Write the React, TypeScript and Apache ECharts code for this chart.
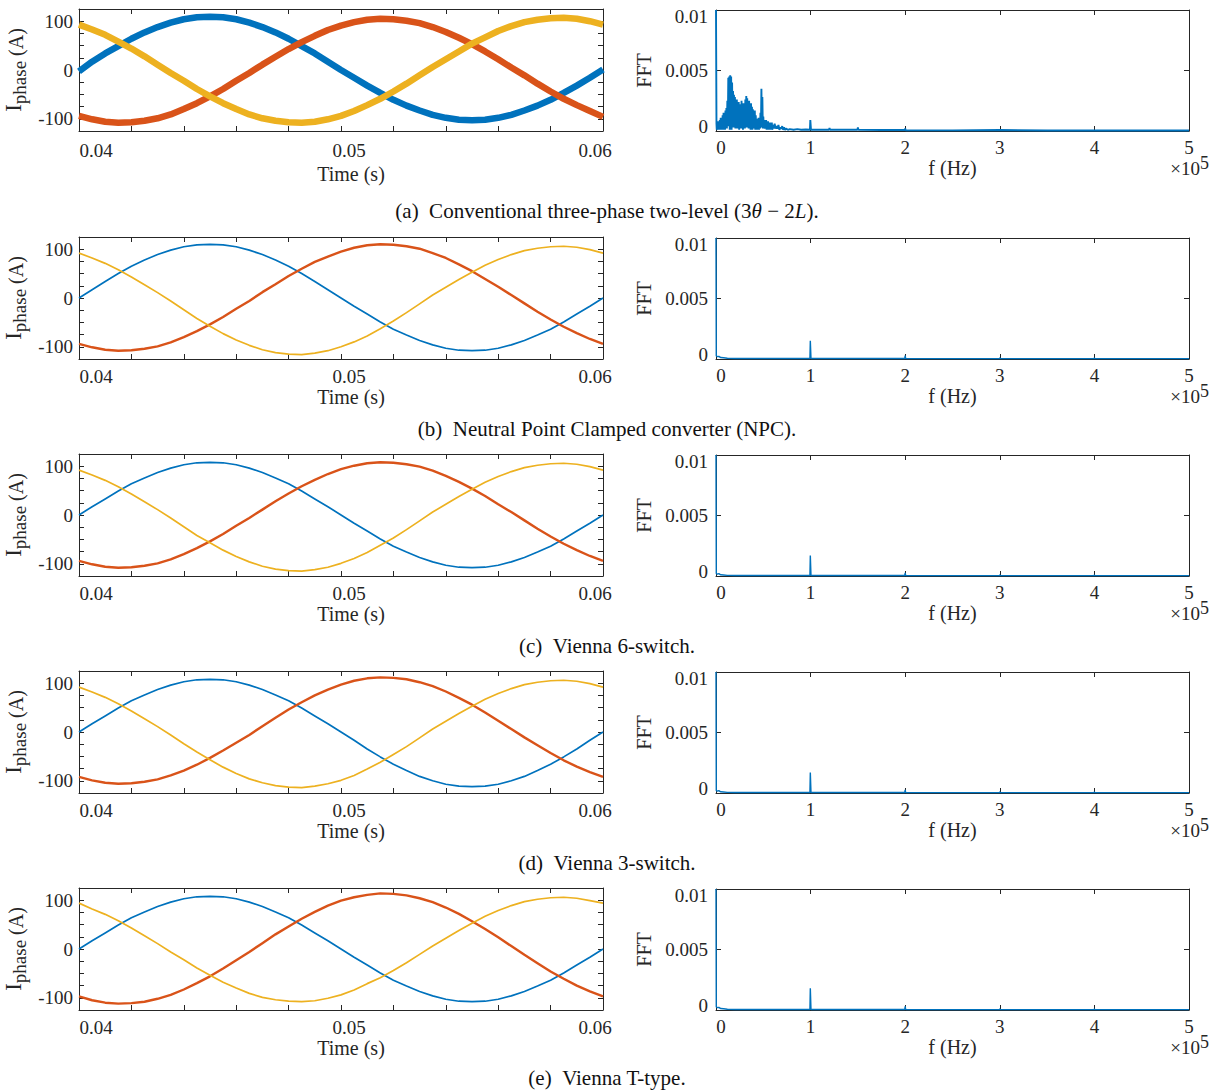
import React, { useEffect, useRef } from "react";
import * as echarts from "echarts";

// ---------- data ----------
const TIME = [
  0.0400, 0.0405, 0.0410, 0.0415, 0.0420, 0.0425, 0.0430, 0.0435, 0.0440, 0.0445,
  0.0450, 0.0455, 0.0460, 0.0465, 0.0470, 0.0475, 0.0480, 0.0485, 0.0490, 0.0495,
  0.0500, 0.0505, 0.0510, 0.0515, 0.0520, 0.0525, 0.0530, 0.0535, 0.0540, 0.0545,
  0.0550, 0.0555, 0.0560, 0.0565, 0.0570, 0.0575, 0.0580, 0.0585, 0.0590, 0.0595, 0.0600,
];

const TIME_TICK_LABELS = ["0.04", "0.05", "0.06"];
const CURRENT_TICK_LABELS = ["-100", "0", "100"];
const FFT_TICK_LABELS = ["0", "0.005", "0.01"];
const FREQ_TICK_LABELS = ["0", "1", "2", "3", "4", "5"];

// (a) conventional three-phase two-level
const ia_a = [-3, 17, 34, 49, 64, 77, 88, 97, 104, 108, 109, 108, 104, 97, 88, 77, 64, 49, 34, 17, 0, -16, -32, -47, -61, -73, -83, -92, -98, -102, -103, -102, -98, -92, -83, -73, -61, -47, -32, -16, 1];
const ib_a = [-94, -101, -106, -108, -107, -104, -99, -91, -80, -68, -54, -39, -22, -6, 11, 27, 43, 57, 70, 82, 91, 98, 103, 105, 104, 101, 96, 88, 78, 66, 53, 38, 22, 5, -11, -28, -44, -59, -72, -84, -96];
const ic_a = [93, 83, 72, 58, 44, 28, 11, -6, -22, -39, -54, -68, -80, -91, -99, -104, -107, -108, -106, -101, -94, -84, -72, -59, -44, -28, -11, 6, 22, 38, 54, 67, 80, 90, 98, 103, 106, 107, 105, 100, 93];
// (b) NPC
const ia_b = [0, 17, 34, 50, 65, 78, 89, 98, 105, 109, 110, 109, 105, 98, 89, 78, 65, 50, 34, 17, 0, -17, -33, -49, -64, -76, -87, -96, -103, -107, -108, -107, -103, -96, -87, -76, -64, -49, -33, -17, 0];
const ib_b = [-94, -101, -106, -108, -107, -104, -99, -91, -80, -68, -54, -39, -22, -6, 12, 28, 45, 60, 74, 85, 95, 103, 108, 110, 109, 106, 101, 92, 82, 69, 55, 39, 23, 6, -11, -28, -44, -59, -72, -84, -94];
const ic_b = [92, 82, 71, 58, 43, 27, 11, -6, -24, -42, -58, -73, -86, -97, -106, -112, -115, -116, -113, -108, -100, -90, -78, -63, -47, -30, -12, 6, 22, 38, 53, 67, 79, 89, 97, 102, 105, 106, 104, 99, 92];
// (c) Vienna 6-switch
const ia_c = [0, 17, 33, 49, 64, 76, 87, 96, 103, 107, 108, 107, 103, 96, 87, 76, 64, 49, 33, 17, 0, -17, -33, -49, -64, -76, -87, -96, -103, -107, -108, -107, -103, -96, -87, -76, -64, -49, -33, -17, 0];
const ib_c = [-94, -101, -106, -108, -107, -104, -99, -91, -80, -68, -54, -39, -22, -6, 11, 28, 44, 59, 72, 84, 94, 101, 106, 108, 107, 104, 99, 91, 80, 68, 54, 39, 22, 6, -11, -28, -44, -59, -72, -84, -94];
const ic_c = [92, 82, 71, 58, 43, 27, 11, -6, -24, -42, -57, -72, -85, -96, -105, -111, -114, -115, -112, -107, -99, -89, -77, -62, -47, -30, -12, 6, 22, 38, 53, 67, 79, 89, 97, 102, 105, 106, 104, 99, 92];
// (d) Vienna 3-switch
const ia_d = [0, 17, 33, 49, 64, 76, 87, 96, 103, 107, 108, 107, 103, 96, 87, 76, 64, 49, 33, 17, 0, -17, -35, -51, -66, -79, -91, -100, -107, -111, -112, -111, -107, -100, -91, -79, -66, -51, -35, -17, 0];
const ib_d = [-92, -99, -104, -106, -105, -102, -97, -89, -79, -67, -53, -38, -22, -6, 12, 29, 46, 61, 75, 87, 97, 105, 110, 112, 111, 108, 102, 94, 83, 70, 56, 40, 23, 6, -11, -27, -43, -58, -71, -82, -92];
const ic_d = [92, 82, 71, 58, 43, 27, 11, -6, -24, -41, -57, -72, -85, -96, -104, -110, -113, -114, -111, -106, -99, -89, -76, -62, -46, -30, -12, 6, 22, 38, 53, 67, 79, 89, 97, 102, 105, 106, 104, 99, 92];
// (e) Vienna T-type
const ia_e = [0, 17, 33, 49, 64, 76, 87, 96, 103, 107, 108, 107, 103, 96, 87, 76, 64, 49, 33, 17, 0, -17, -33, -49, -64, -76, -87, -96, -103, -107, -108, -107, -103, -96, -87, -76, -64, -49, -33, -17, 0];
const ib_e = [-97, -105, -110, -112, -111, -108, -102, -94, -83, -70, -56, -40, -23, -6, 12, 30, 46, 62, 76, 89, 99, 106, 111, 114, 113, 110, 104, 96, 85, 72, 57, 41, 24, 6, -12, -29, -46, -61, -75, -87, -97];
const ic_e = [94, 82, 71, 58, 43, 27, 11, -6, -22, -39, -54, -68, -80, -91, -99, -104, -107, -108, -106, -101, -94, -84, -71, -59, -44, -28, -11, 6, 22, 38, 53, 67, 79, 89, 97, 102, 105, 106, 104, 99, 94];

// FFT spectra: [frequency (Hz), magnitude]
const fft_a: number[][] = [
  [0, 0.0100], [500, 0.0006], [800, 0.0001], [1000, 0.0005], [1500, 0.0001], [2000, 0.0008], [2500, 0.0001],
  [3000, 0.0007], [3500, 0.0001], [4000, 0.0009], [4500, 0.0002], [5000, 0.0011], [5500, 0.0001],
  [6000, 0.0010], [6500, 0.0002], [7000, 0.0013], [7500, 0.0001], [8000, 0.0015], [8500, 0.0002],
  [9000, 0.0014], [9500, 0.0001], [10000, 0.0017], [10500, 0.0003], [11000, 0.0019], [11500, 0.0002],
  [12000, 0.0025], [12500, 0.0004], [13000, 0.0044], [13500, 0.0006], [14000, 0.0045], [14500, 0.0001],
  [15000, 0.0046], [15500, 0.0005], [16000, 0.0045], [16500, 0.0001], [17000, 0.0040], [17500, 0.0006],
  [18000, 0.0033], [18500, 0.0003], [19000, 0.0030], [19500, 0.0005], [20000, 0.0028], [20500, 0.0002],
  [21000, 0.0022], [21500, 0.0005], [22000, 0.0026], [22500, 0.0002], [23000, 0.0021], [23500, 0.0004],
  [24000, 0.0024], [24500, 0.0001], [25000, 0.0019], [25500, 0.0004], [26000, 0.0022], [26500, 0.0002],
  [27000, 0.0025], [27500, 0.0005], [28000, 0.0020], [28500, 0.0001], [29000, 0.0023], [29500, 0.0004],
  [30000, 0.0018], [30500, 0.0002], [31000, 0.0026], [31500, 0.0005], [32000, 0.0029], [32500, 0.0003],
  [33000, 0.0027], [33500, 0.0005], [34000, 0.0024], [34500, 0.0002], [35000, 0.0025], [35500, 0.0004],
  [36000, 0.0021], [36500, 0.0001], [37000, 0.0023], [37500, 0.0004], [38000, 0.0020], [38500, 0.0001],
  [39000, 0.0018], [39500, 0.0003], [40000, 0.0016], [40500, 0.0002], [41000, 0.0017], [41500, 0.0001],
  [42000, 0.0013], [42500, 0.0003], [43000, 0.0010], [43500, 0.0001], [44000, 0.0009], [44500, 0.0002],
  [45000, 0.0011], [45500, 0.0001], [46000, 0.0009], [46500, 0.0002], [47000, 0.0015], [47500, 0.0003],
  [48000, 0.0035], [48500, 0.0004], [49000, 0.0028], [49500, 0.0002], [50000, 0.0012], [50500, 0.0003],
  [51000, 0.0009], [51500, 0.0002], [52000, 0.0008], [52500, 0.0002], [53000, 0.0009], [53500, 0.0001],
  [54000, 0.0007], [54500, 0.0002], [55000, 0.0008], [55500, 0.0001], [56000, 0.0006], [56500, 0.0002],
  [57000, 0.0007], [57500, 0.0001], [58000, 0.0006], [58500, 0.0002], [59000, 0.0007], [59500, 0.0001],
  [60000, 0.0005], [61000, 0.0002], [62000, 0.0006], [63000, 0.0002], [64000, 0.0004], [65000, 0.0002],
  [66000, 0.0005], [67000, 0.0001], [68000, 0.0003], [69000, 0.0002], [70000, 0.0004], [71000, 0.0001],
  [72000, 0.0003], [73000, 0.0001], [74000, 0.0002], [76000, 0.0001], [78000, 0.00015], [82000, 0.0001],
  [86000, 0.00015], [90000, 0.0001], [95000, 0.00012], [99300, 0.0001], [99700, 0.0009], [100000, 0.0009],
  [100400, 0.0001], [110000, 0.0001], [119500, 0.0001], [120000, 0.00025], [120500, 0.0001],
  [135000, 0.0001], [149500, 0.0001], [150000, 0.0003], [150500, 0.0001], [175000, 0.00008],
  [199500, 0.00008], [200000, 0.0002], [200500, 0.00005], [250000, 0.00005], [300000, 0.00008],
  [350000, 0.00004], [400000, 0.00005], [450000, 0.00004], [500000, 0.00004],
];
const fft_b: number[][] = [
  [0, 0.0100], [300, 0.00025], [1500, 0.0002], [3000, 0.00022], [5000, 0.00012], [8000, 0.0001],
  [12000, 0.00006], [20000, 0.00004], [99300, 0.00004], [99700, 0.0015], [100000, 0.0015], [100400, 0.00004],
  [199500, 0.00004], [200000, 0.00028], [200500, 0.00004], [299500, 0.00003], [300000, 0.0001],
  [300500, 0.00003], [399500, 0.00003], [400000, 0.00008], [400500, 0.00003], [500000, 0.00003],
];
const fft_c: number[][] = [
  [0, 0.0100], [300, 0.0002], [1500, 0.00015], [3000, 0.0002], [5000, 0.0001], [8000, 0.00008],
  [12000, 0.00005], [20000, 0.00004], [99300, 0.00004], [99700, 0.0017], [100000, 0.0017], [100400, 0.00004],
  [199500, 0.00004], [200000, 0.00025], [200500, 0.00004], [299500, 0.00003], [300000, 0.0001],
  [300500, 0.00003], [399500, 0.00003], [400000, 0.00008], [400500, 0.00003], [500000, 0.00003],
];
const fft_d: number[][] = [
  [0, 0.0100], [300, 0.0002], [1500, 0.00015], [3000, 0.0002], [5000, 0.0001], [8000, 0.00008],
  [12000, 0.00005], [20000, 0.00004], [99300, 0.00004], [99700, 0.0017], [100000, 0.0017], [100400, 0.00004],
  [199500, 0.00004], [200000, 0.00025], [200500, 0.00004], [299500, 0.00003], [300000, 0.0001],
  [300500, 0.00003], [399500, 0.00003], [400000, 0.00008], [400500, 0.00003], [500000, 0.00003],
];
const fft_e: number[][] = [
  [0, 0.0100], [300, 0.00025], [1500, 0.0002], [3000, 0.00022], [5000, 0.00012], [8000, 0.0001],
  [12000, 0.00006], [20000, 0.00004], [99300, 0.00004], [99700, 0.0018], [100000, 0.0018], [100400, 0.00004],
  [199500, 0.00004], [200000, 0.0003], [200500, 0.00004], [299500, 0.00003], [300000, 0.0001],
  [300500, 0.00003], [399500, 0.00003], [400000, 0.00008], [400500, 0.00003], [500000, 0.00003],
];

const PHASES = [
  [ia_a, ib_a, ic_a],
  [ia_b, ib_b, ic_b],
  [ia_c, ib_c, ic_c],
  [ia_d, ib_d, ic_d],
  [ia_e, ib_e, ic_e],
];
const SPECTRA = [fft_a, fft_b, fft_c, fft_d, fft_e];

const CAPTIONS = [
  "{n|(a)\u00A0\u00A0Conventional three-phase two-level (3}{i|θ}{n|\u00A0−\u00A02}{i|L}{n|).}",
  "{n|(b)\u00A0\u00A0Neutral Point Clamped converter (NPC).}",
  "{n|(c)\u00A0\u00A0Vienna 6-switch.}",
  "{n|(d)\u00A0\u00A0Vienna 3-switch.}",
  "{n|(e)\u00A0\u00A0Vienna T-type.}",
];

// ---------- style ----------
const FONT = "'Liberation Serif', 'Times New Roman', serif";
const AX = "#262626";
const COLORS = ["#0072BD", "#D95319", "#EDB120"];
const ROW_TOPS = [9, 237, 454, 671, 888];
const CAPTION_Y = [211, 429, 646, 863, 1078];
const LEFT = { left: 79, width: 524, height: 122 };
const RIGHT = { left: 716, width: 473, height: 121 };

function buildOption() {
  const grid: any[] = [];
  const xAxis: any[] = [];
  const yAxis: any[] = [];
  const series: any[] = [];
  const graphic: any[] = [];

  const txt = { fontFamily: FONT, fontSize: 19, color: AX };
  const axLine = { show: true, onZero: false, lineStyle: { color: AX, width: 1 } };
  const tick = { show: true, inside: true, length: 5, lineStyle: { color: AX, width: 1 } };

  PHASES.forEach((phase, i) => {
    const top = ROW_TOPS[i];
    const gL = 2 * i;
    const gR = 2 * i + 1;
    grid.push({ left: LEFT.left, top, width: LEFT.width, height: LEFT.height });
    grid.push({ left: RIGHT.left, top: top + 1, width: RIGHT.width, height: RIGHT.height });

    // ----- left: time axis -----
    xAxis.push({
      gridIndex: gL, type: "value", position: "bottom", min: 0.04, max: 0.06, interval: 0.002,
      axisLine: axLine, axisTick: tick, splitLine: { show: false },
      axisLabel: {
        ...txt, margin: i === 0 ? 10 : 8, showMinLabel: true, showMaxLabel: true, hideOverlap: false,
        formatter: (v: number) => {
          const idx = TIME_TICK_LABELS.findIndex((s) => Math.abs(parseFloat(s) - v) < 1e-7);
          if (idx < 0) return "";
          return `{${["l", "m", "r"][idx]}|${TIME_TICK_LABELS[idx]}}`;
        },
        rich: {
          l: { ...txt, padding: [0, 0, 0, 34] },
          m: { ...txt, padding: [0, 0, 0, 16] },
          r: { ...txt, padding: [0, 16, 0, 0] },
        },
      },
      name: "Time (s)", nameLocation: "middle", nameGap: i === 0 ? 33 : 23,
      nameTextStyle: { fontFamily: FONT, fontSize: 20, color: AX, padding: [0, 0, 0, 20] },
    });
    xAxis.push({
      gridIndex: gL, type: "value", position: "top", min: 0.04, max: 0.06, interval: 0.002,
      axisLine: axLine, axisTick: tick, axisLabel: { show: false }, splitLine: { show: false },
    });
    yAxis.push({
      gridIndex: gL, type: "value", position: "left", min: -125, max: 125, interval: 25,
      axisLine: axLine, axisTick: tick, splitLine: { show: false },
      axisLabel: {
        ...txt, margin: 6, showMinLabel: true, showMaxLabel: true,
        formatter: (v: number) => {
          const s = String(Math.round(v));
          return CURRENT_TICK_LABELS.includes(s) ? s : "";
        },
      },
      name: "{I|I}{s|phase}{u| (A)}", nameLocation: "middle", nameRotate: 90, nameGap: 50,
      nameTextStyle: {
        fontFamily: FONT, color: AX, fontSize: 20,
        rich: {
          I: { fontFamily: FONT, color: AX, fontSize: 23, lineHeight: 27, verticalAlign: "top" },
          s: { fontFamily: FONT, color: AX, fontSize: 19, lineHeight: 27, verticalAlign: "bottom" },
          u: { fontFamily: FONT, color: AX, fontSize: 20, lineHeight: 27, verticalAlign: "middle" },
        },
      },
    });
    yAxis.push({
      gridIndex: gL, type: "value", position: "right", min: -125, max: 125, interval: 25,
      axisLine: axLine, axisTick: tick, axisLabel: { show: false }, splitLine: { show: false },
    });

    // ----- right: frequency axis -----
    xAxis.push({
      gridIndex: gR, type: "value", position: "bottom", min: 0, max: 500000, interval: 100000,
      axisLine: axLine, axisTick: tick, splitLine: { show: false },
      axisLabel: {
        ...txt, margin: 7, showMinLabel: true, showMaxLabel: true, hideOverlap: false,
        formatter: (v: number) => {
          const s = FREQ_TICK_LABELS[Math.round(v / 100000)];
          return s === "0" ? "{z|0}" : s;
        },
        rich: { z: { ...txt, padding: [0, 0, 0, 10] } },
      },
      name: "f (Hz)", nameLocation: "middle", nameGap: 24,
      nameTextStyle: { fontFamily: FONT, fontSize: 20, color: AX },
    });
    xAxis.push({
      gridIndex: gR, type: "value", position: "top", min: 0, max: 500000, interval: 100000,
      axisLine: axLine, axisTick: tick, axisLabel: { show: false }, splitLine: { show: false },
    });
    yAxis.push({
      gridIndex: gR, type: "value", position: "left", min: 0, max: 0.01, interval: 0.005,
      axisLine: axLine, axisTick: tick, splitLine: { show: false },
      axisLabel: {
        ...txt, margin: 8, showMinLabel: true, showMaxLabel: true,
        formatter: (v: number) => {
          const idx = Math.round(v / 0.005);
          const s = FFT_TICK_LABELS[idx];
          if (idx === 0) return `{lo|${s}}`;
          if (idx === 2) return `{hi|${s}}`;
          return s;
        },
        rich: {
          lo: { ...txt, padding: [0, 0, 10, 0] },
          hi: { ...txt, padding: [12, 0, 0, 0] },
        },
      },
      name: "FFT", nameLocation: "middle", nameRotate: 90, nameGap: 62,
      nameTextStyle: { fontFamily: FONT, fontSize: 20, color: AX },
    });
    yAxis.push({
      gridIndex: gR, type: "value", position: "right", min: 0, max: 0.01, interval: 0.005,
      axisLine: axLine, axisTick: tick, axisLabel: { show: false }, splitLine: { show: false },
    });

    // ----- series -----
    const noisy = i === 0;
    phase.forEach((vals, k) => {
      series.push({
        type: "line", xAxisIndex: 2 * gL, yAxisIndex: 2 * gL,
        data: TIME.map((t, j) => [t, vals[j]]),
        smooth: false, showSymbol: false, symbol: "none",
        lineStyle: { color: COLORS[k], width: noisy ? 6.5 : k === 1 ? 2.4 : 1.7, join: "round" },
        itemStyle: { color: COLORS[k] },
        silent: true,
      });
    });
    series.push({
      type: "line", xAxisIndex: 2 * gR, yAxisIndex: 2 * gR,
      data: SPECTRA[i], showSymbol: false, symbol: "none", clip: false,
      lineStyle: { color: COLORS[0], width: noisy ? 1.9 : 1.4 },
      itemStyle: { color: COLORS[0] },
      silent: true,
    });

    // ×10^5
    const bottom = top + 1 + RIGHT.height;
    graphic.push({
      type: "text", x: 1209, y: bottom + 35, silent: true,
      style: {
        text: "{a|×10}{b|5}", align: "right", verticalAlign: "middle",
        rich: {
          a: { fontFamily: FONT, fontSize: 19, fill: AX, lineHeight: 24, verticalAlign: "bottom" },
          b: { fontFamily: FONT, fontSize: 18, fill: AX, lineHeight: 24, verticalAlign: "top" },
        },
      },
    });
    // caption
    graphic.push({
      type: "text", x: 607, y: CAPTION_Y[i], silent: true,
      style: {
        text: CAPTIONS[i], align: "center", verticalAlign: "middle",
        rich: {
          n: { fontFamily: FONT, fontSize: 21, fill: "#111" },
          i: { fontFamily: FONT, fontSize: 21, fill: "#111", fontStyle: "italic" },
        },
      },
    });
  });

  return {
    animation: false,
    backgroundColor: "#ffffff",
    grid, xAxis, yAxis, series, graphic,
  };
}

export default function App() {
  const ref = useRef<HTMLDivElement | null>(null);
  useEffect(() => {
    if (!ref.current) return;
    const chart = echarts.init(ref.current, undefined, { renderer: "svg" });
    chart.setOption(buildOption() as any);
    return () => chart.dispose();
  }, []);
  return (
    <div
      ref={ref}
      style={{ position: "absolute", left: 0, top: 0, width: 1215, height: 1091, background: "#fff" }}
    />
  );
}
